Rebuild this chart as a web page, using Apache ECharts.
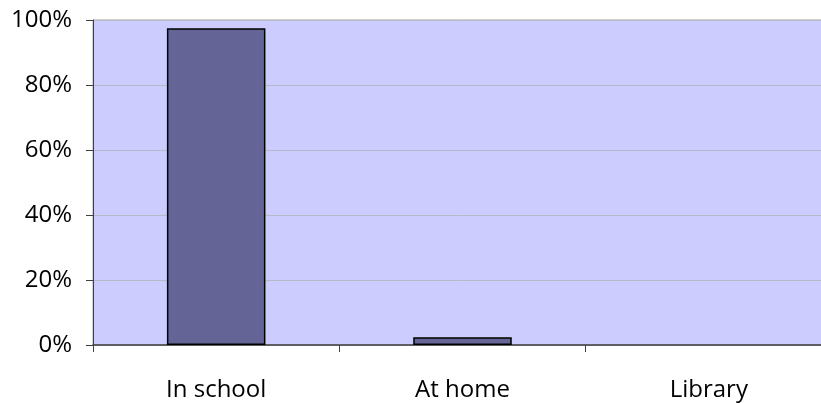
<!DOCTYPE html>
<html>
<head>
<meta charset="utf-8">
<script src="https://cdn.jsdelivr.net/npm/echarts@6/dist/echarts.min.js"></script>
<style>
  html, body { margin: 0; padding: 0; background: #ffffff; }
  #chart { width: 821px; height: 403px; }
</style>
</head>
<body>
<div id="chart"></div>
<script>
// Where students use the computer (share of respondents)
const categories = ['In school', 'At home', 'Library'];
const shares = [0.975, 0.024, 0];
const yTicks = [0, 0.2, 0.4, 0.6, 0.8, 1.0];

const chart = echarts.init(document.getElementById('chart'), null, { renderer: 'canvas' });
const font = '"Open Sans", "Liberation Sans", sans-serif';

// Zero-valued bars are drawn without an outline so they leave no mark
const barData = shares.map(v => v > 0 ? v : { value: v, itemStyle: { borderWidth: 0 } });

chart.setOption({
  animation: false,
  grid: {
    left: 93, right: -11, top: 20, bottom: 58,
    outerBoundsMode: 'none',
    containLabel: false,
    show: true,
    backgroundColor: '#ccccff',
    borderColor: '#a6a6a6',
    borderWidth: 1
  },
  xAxis: {
    type: 'category',
    data: categories,
    axisLine: { show: true, lineStyle: { color: '#404040', width: 1.5 } },
    axisTick: { show: true, alignWithLabel: false, length: 7, lineStyle: { color: '#404040' } },
    axisLabel: { color: '#000000', fontFamily: font, fontSize: 24, margin: 33 }
  },
  yAxis: {
    type: 'value',
    min: yTicks[0],
    max: yTicks[yTicks.length - 1],
    interval: 0.2,
    axisLine: { show: true, lineStyle: { color: '#404040' } },
    axisTick: { show: true, inside: false, length: 7, lineStyle: { color: '#404040' } },
    splitLine: { show: true, lineStyle: { color: '#b8b8c8', width: 1 } },
    axisLabel: {
      color: '#000000', fontFamily: font, fontSize: 24, margin: 21,
      formatter: v => Math.round(v * 100) + '%'
    }
  },
  series: [{
    type: 'bar',
    data: barData,
    barWidth: '40%',
    itemStyle: { color: '#646496', borderColor: '#000000', borderWidth: 1.5 }
  }]
});
</script>
</body>
</html>
